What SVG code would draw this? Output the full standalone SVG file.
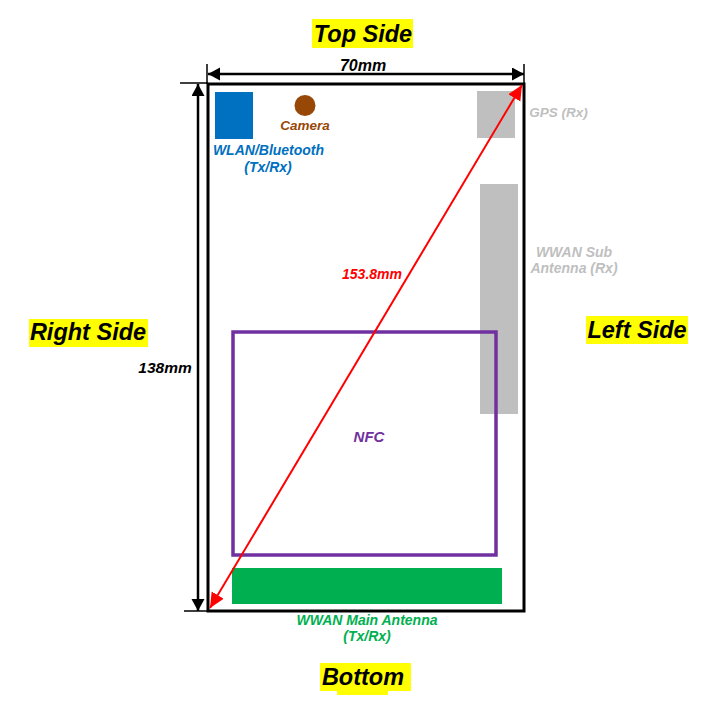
<svg xmlns="http://www.w3.org/2000/svg" width="719" height="710" viewBox="0 0 719 710">
<defs>
<marker id="blk" markerUnits="userSpaceOnUse" markerWidth="13" markerHeight="14" refX="12" refY="6.500" orient="auto-start-reverse"><path d="M0 0L12 6.500L0 13Z" fill="#000"/></marker>
<marker id="red" markerUnits="userSpaceOnUse" markerWidth="16" markerHeight="15" refX="15" refY="7" orient="auto-start-reverse"><path d="M0 0L15 7L0 14Z" fill="#f00"/></marker>
</defs>
<style>
text{font-family:"Liberation Sans",Arial,sans-serif;font-weight:700;font-style:italic;text-anchor:middle}
.h{font-size:23.500px;fill:#000}
.s{font-size:14px}
.d{font-size:16px;fill:#000}
.g{fill:#bfbfbf}.b{fill:#0070c0}.br{fill:#974706}.gr{fill:#00b050}
.y{fill:#ff0}
</style>
<rect width="719" height="710" fill="#fff"/>
<g id="labels">
<g id="top-side"><rect class="y" x="312" y="19" width="101" height="29"/><text class="h" x="363" y="42">Top Side</text></g>
<g id="right-side"><rect class="y" x="29" y="319" width="119" height="28"/><text class="h" x="88" y="340">Right Side</text></g>
<g id="left-side"><rect class="y" x="586" y="316" width="102" height="28"/><text class="h" x="637" y="338">Left Side</text></g>
<g id="bottom"><rect class="y" x="320" y="663" width="91" height="28"/><rect class="y" x="337" y="690" width="51" height="5"/><text class="h" x="363" y="685">Bottom</text></g>
</g>
<g id="phone"><rect x="208" y="84" width="316" height="527" fill="none" stroke="#000" stroke-width="3"/></g>
<g id="wlan"><rect x="215" y="92" width="38" height="47" class="b"/><text class="s b" x="268.500" y="155">WLAN/Bluetooth</text><text class="s b" x="268" y="172">(Tx/Rx)</text></g>
<g id="camera"><circle cx="305" cy="105.500" r="10.500" class="br"/><text class="s br" x="305" y="130" style="font-size:13.500px">Camera</text></g>
<g id="gps"><rect x="477" y="91" width="38" height="47" class="g"/><text class="s g" x="558.500" y="117" style="font-size:13.500px">GPS (Rx)</text></g>
<g id="wwan-sub"><rect x="480" y="184" width="38" height="230" class="g"/><text class="s g" x="574" y="257">WWAN Sub</text><text class="s g" x="574" y="273">Antenna (Rx)</text></g>
<g id="nfc"><rect x="233" y="332" width="263" height="223" fill="none" stroke="#7030a0" stroke-width="3.500"/><text fill="#7030a0" x="369" y="442" style="font-size:15px">NFC</text></g>
<g id="wwan-main"><rect x="232" y="568" width="270" height="36" class="gr"/><text class="s gr" x="367" y="625">WWAN Main Antenna</text><text class="s gr" x="367" y="641">(Tx/Rx)</text></g>
<g id="connectors" fill="none">
<path d="M207 64V84M524 64V84M180 83H208M184 611H219" stroke="#000" stroke-width="1.500"/>
<path d="M208 74H524" stroke="#000" stroke-width="2.500" marker-start="url(#blk)" marker-end="url(#blk)"/>
<path d="M198 84V611" stroke="#000" stroke-width="2.500" marker-start="url(#blk)" marker-end="url(#blk)"/>
<path d="M210 608L522 85" stroke="#f00" stroke-width="2" marker-start="url(#red)" marker-end="url(#red)"/>
</g>
<g id="dimensions">
<text class="d" x="363" y="71">70mm</text>
<text class="d" x="165" y="373" style="font-size:15.500px">138mm</text>
<text class="s" fill="#f00" x="372" y="279">153.8mm</text>
</g>
</svg>
